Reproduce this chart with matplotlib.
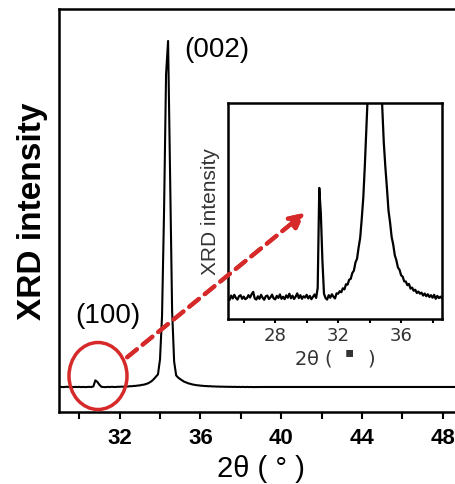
import numpy as np
import matplotlib
matplotlib.use("Agg")
import matplotlib.pyplot as plt
from matplotlib.patches import Ellipse

# 2theta readings (deg), 0.1 deg steps over the inset window, coarse tail after
two_theta = np.concatenate([np.round(np.arange(250, 387) / 10.0, 1),
                            [39.0, 40.0, 41.0, 42.0, 43.0, 44.0, 45.0, 46.0, 47.0, 48.0, 49.0]])

intensity = [
    # 25.0 - 25.9
    96, 84, 108, 92, 112, 95, 86, 104, 110, 90,
    # 26.0 - 26.9
    102, 88, 94, 110, 97, 115, 128, 92, 86, 104,
    # 27.0 - 27.9
    90, 112, 96, 85, 104, 108, 89, 98, 113, 92,
    # 28.0 - 28.9
    87, 106, 95, 114, 90, 101, 88, 109, 96, 118,
    # 29.0 - 29.9
    93, 107, 89, 102, 120, 94, 110, 90, 104, 97,
    # 30.0 - 30.9  (100) peak
    112, 92, 106, 88, 101, 114, 95, 150, 700, 560,
    # 31.0 - 31.9
    300, 118, 94, 86, 110, 96, 115, 102, 92, 120,
    # 32.0 - 32.9
    118, 132, 126, 148, 142, 170, 168, 195, 200, 232,
    # 33.0 - 33.9
    245, 290, 310, 372, 425, 530, 650, 830, 1040, 1250,
    # 34.0 - 34.9  (002) peak
    2600, 6500, 16000, 28500, 31500, 19000, 7000, 2400, 1150, 950,
    # 35.0 - 35.9
    815, 700, 575, 510, 430, 388, 330, 302, 262, 250,
    # 36.0 - 36.9
    220, 212, 186, 185, 165, 172, 146, 152, 134, 140,
    # 37.0 - 37.9
    122, 130, 118, 124, 108, 119, 104, 115, 100, 110,
    # 38.0 - 38.6
    96, 112, 90, 106, 94, 102, 92,
    # 39 - 49
    100, 100, 100, 100, 100, 100, 100, 100, 100, 100, 100,
]

main_ticks = [32, 36, 40, 44, 48]
inset_ticks = [28, 32, 36]

W, H = 455, 485
fig = plt.figure(figsize=(W / 100, H / 100), dpi=100)
fig.patch.set_facecolor("white")

def px(x0, y_top, x1, y_bot):
    return [x0 / W, 1 - y_bot / H, (x1 - x0) / W, (y_bot - y_top) / H]

# main plot
ax = fig.add_axes(px(59, 10, 463, 413))
ax.plot(two_theta, intensity, color="black", lw=1.5)
ax.set_xlim(29, 49)
ax.set_ylim(-2170, 34400)
ax.set_xticks(main_ticks)
ax.set_xticks([30, 34, 38, 42, 46], minor=True)
ax.set_yticks([])
ax.tick_params(axis="x", which="both", direction="out", width=1.5, length=5, pad=6)
for lab in ax.get_xticklabels():
    lab.set_fontfamily("Liberation Sans")
    lab.set_fontweight("bold")
    lab.set_fontsize(16)
for s in ax.spines.values():
    s.set_linewidth(1.8)
ax.set_xlabel("2θ ( ° )", fontsize=21, family="Liberation Sans", labelpad=4)
ax.set_ylabel("XRD intensity", fontsize=24, family="Liberation Sans",
              fontweight="bold", labelpad=8)

ax.text(35.2, 30800, "(002)", fontsize=20, family="Liberation Sans", va="center")
ax.text(29.8, 6600, "(100)", fontsize=20, family="Liberation Sans", va="center")

# inset
axi = fig.add_axes(px(228, 104, 442, 320))
axi.plot(two_theta, intensity, color="black", lw=1.6)
axi.set_xlim(25.0, 38.6)
axi.set_ylim(-21, 1167)
axi.set_xticks(inset_ticks)
axi.set_xticks([26, 30, 34, 38], minor=True)
axi.set_yticks([])
axi.tick_params(axis="x", which="both", direction="out", width=1.5, length=3,
                pad=2, labelsize=13, labelcolor="#333333")
for s in axi.spines.values():
    s.set_linewidth(1.8)
axi.set_xlabel(r"2θ ( $\ ^{▪}\ $ )", fontsize=14, color="#333333", labelpad=2)
axi.set_ylabel("XRD intensity", fontsize=15, color="#333333",
               family="Liberation Sans", labelpad=6)

# red circle around the (100) peak and dashed arrow to the inset
red = "#d62a2a"
circ = Ellipse((98 / W, 1 - 377 / H), 58 / W, 67 / H, transform=fig.transFigure,
               fill=False, edgecolor=red, lw=2.5)
fig.add_artist(circ)
fig.add_artist(plt.annotate("", xy=(307 / W, 1 - 212 / H), xycoords=fig.transFigure,
                            xytext=(125 / W, 1 - 360 / H), textcoords=fig.transFigure,
                            arrowprops=dict(arrowstyle="-|>", color=red, lw=3,
                                            linestyle=(0, (3, 1.8)),
                                            mutation_scale=22)))

fig.savefig("out.png", dpi=100)
